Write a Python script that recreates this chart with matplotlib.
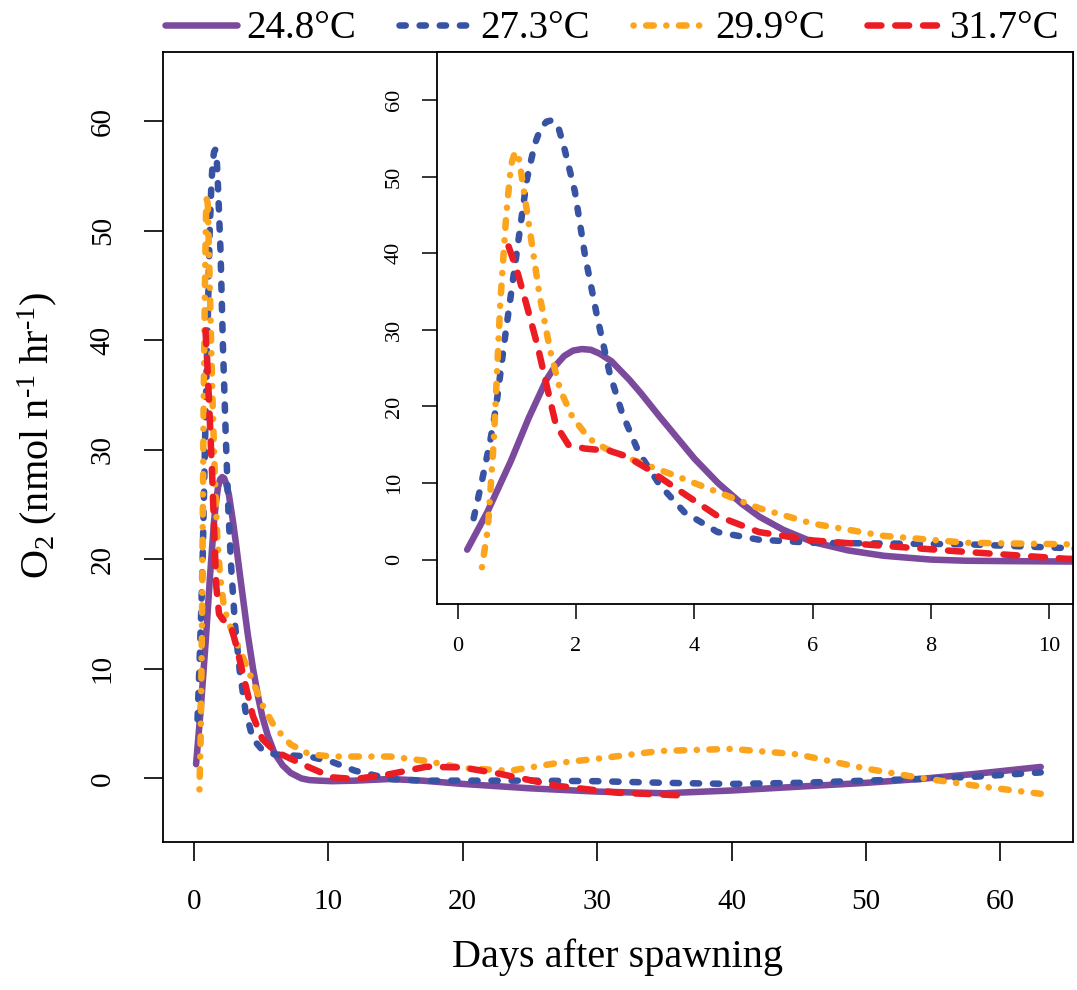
import matplotlib
matplotlib.use("Agg")
import matplotlib.pyplot as plt

# ---- data ----
labels = ["24.8°C", "27.3°C", "29.9°C", "31.7°C"]

days_248 = [0.16, 0.5, 0.9, 1.2, 1.5, 1.65, 1.8, 1.95, 2.1, 2.25, 2.4, 2.6, 2.9, 3.1, 3.4, 3.7, 4.0,
            4.4, 4.8, 5.1, 5.5, 6.0, 6.6, 7.2, 8.0, 8.6, 9.3, 10.3, 12, 14.6, 17, 20, 25, 30, 35,
            40, 45, 50, 54, 58, 63]
o2_248 = [1.3, 6.2, 12.9, 18.5, 23.5, 25.3, 26.6, 27.3, 27.5, 27.4, 26.9, 25.9, 23.5, 21.7, 18.8,
          16.0, 13.2, 10.0, 7.3, 5.6, 3.9, 2.3, 1.2, 0.5, 0.0, -0.15, -0.2, -0.25, -0.2, -0.05,
          -0.2, -0.5, -0.9, -1.2, -1.35, -1.1, -0.75, -0.4, -0.05, 0.4, 1.05]

days_273 = [0.27, 0.41, 0.55, 0.65, 0.79, 0.96, 1.17, 1.3, 1.4, 1.5, 1.6, 1.7, 1.8, 1.98, 2.15,
            2.36, 2.57, 2.78, 3.06, 3.41, 3.83, 4.39, 5.09, 6.0, 7.2, 8.6, 10.3, 12, 14.6, 17, 20,
            25, 30, 35, 40, 45, 50, 54, 58, 63]
o2_273 = [5.4, 10.3, 15.5, 20, 28.5, 38, 49.7, 54.2, 56.3, 57.2, 57.4, 56.5, 53.8, 48.1, 39.8,
          31.6, 24.3, 19.1, 14.0, 9.8, 6.2, 3.6, 2.6, 2.2, 2.1, 2.0, 1.5, 0.7, -0.05, -0.2, -0.2,
          -0.2, -0.25, -0.4, -0.5, -0.4, -0.2, -0.05, 0.15, 0.55]

days_299 = [0.41, 0.51, 0.61, 0.72, 0.82, 0.9, 0.97, 1.04, 1.1, 1.24, 1.38, 1.56, 1.73, 1.94,
            2.22, 2.5, 3.0, 3.7, 4.4, 5.1, 6.0, 7.2, 8.6, 10.3, 12, 14.6, 17.3, 20, 23.5, 27, 30,
            34.6, 40, 44.9, 50, 53.8, 58.2, 63]
o2_299 = [-1.0, 4.1, 15.5, 33.6, 45, 51.5, 53.3, 52.2, 49.1, 41.9, 34.7, 27.4, 22.2, 18.6, 15.8,
          14.5, 12.9, 10.9, 8.8, 6.7, 4.7, 3.1, 2.2, 2.0, 2.0, 2.0, 1.6, 0.95, 0.7, 1.4, 1.8, 2.5,
          2.7, 2.2, 0.9, 0.1, -0.67, -1.4]

days_317 = [0.86, 1.0, 1.17, 1.35, 1.52, 1.66, 1.87, 2.15, 2.57, 2.85, 3.2, 3.69, 4.39, 5.09, 6.0,
            7.2, 8.6, 10.3, 12, 14.6, 17.3, 20, 22.6, 27, 31.5, 36.3]
o2_317 = [40.9, 37.8, 33.1, 27.9, 22.2, 17.6, 15.0, 14.5, 14.2, 13.5, 11.9, 9.3, 5.7, 3.6, 2.5,
          1.8, 1.0, 0.1, -0.06, 0.4, 1.07, 1.0, 0.46, -0.67, -1.3, -1.55]

main_xticks = [0, 10, 20, 30, 40, 50, 60]
main_yticks = [0, 10, 20, 30, 40, 50, 60]
inset_xticks = [0, 2, 4, 6, 8, 10]
inset_yticks = [0, 10, 20, 30, 40, 50, 60]

# ---- style ----
plt.rcParams['font.family'] = ['Liberation Serif', 'DejaVu Serif']
plt.rcParams['mathtext.fontset'] = 'custom'
plt.rcParams['mathtext.rm'] = 'Liberation Serif'
plt.rcParams['mathtext.it'] = 'Liberation Serif:italic'
plt.rcParams['lines.scale_dashes'] = False

LW = 4.7
series = [
    (days_248, o2_248, "#7b4a9d", "-"),
    (days_273, o2_273, "#3953a4", (0, (4.5, 10))),
    (days_299, o2_299, "#fca41c", (0, (0.1, 9, 5.5, 9))),
    (days_317, o2_317, "#ec1c24", (0, (10, 10))),
]

fig = plt.figure(figsize=(10.77, 9.9), dpi=100)
W, H = 1077, 990
ax = fig.add_axes([163 / W, 1 - 842 / H, (1073 - 163) / W, (842 - 52) / H])
axi = fig.add_axes([437 / W, 1 - 604 / H, (1073 - 437) / W, (604 - 52) / H])

handles = []
for a in (ax, axi):
    for d, v, c, ls in series:
        ln, = a.plot(d, v, color=c, linestyle=ls, linewidth=LW,
                     dash_capstyle='round', solid_capstyle='round', solid_joinstyle='round')
        if a is ax:
            handles.append(ln)
    for s in a.spines.values():
        s.set_linewidth(1.3)

ax.set_xlim(-2.3, 65.4)
ax.set_ylim(-5.8, 66.3)
ax.set_xticks(main_xticks)
ax.set_yticks(main_yticks)
ax.tick_params(direction='out', length=14, width=1.2, labelsize=21, pad=20)
for t in ax.get_yticklabels():
    t.set_rotation(90)
    t.set_va('center')
ax.set_xlabel("Days after spawning", fontsize=29, labelpad=17)
ax.set_ylabel(r"O$_2$ (nmol n$^{\text{-}1}$ hr$^{\text{-}1}$)", fontsize=29)
ax.yaxis.set_label_coords(-0.114, 0.515)

axi.set_xlim(-0.35, 10.4)
axi.set_ylim(-5.8, 66.3)
axi.set_xticks(inset_xticks)
axi.set_yticks(inset_yticks)
axi.tick_params(direction='out', length=11, width=1.1, labelsize=16, pad=13)
for t in axi.get_yticklabels():
    t.set_rotation(90)
    t.set_va('center')
axi.set_facecolor('white')

fig.legend(handles, labels, loc='upper center', bbox_to_anchor=(0.568, 1.025), ncol=4,
           frameon=False, fontsize=28, handlelength=1.85, handletextpad=0.25,
           columnspacing=1.1)

fig.savefig("out.png", dpi=100)
